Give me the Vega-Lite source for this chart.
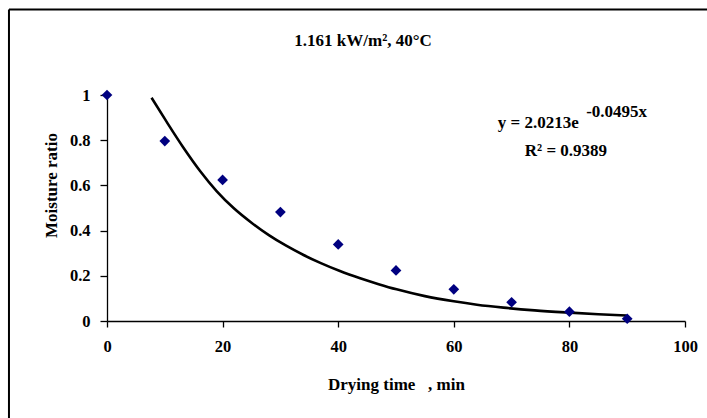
{
  "$schema": "https://vega.github.io/schema/vega-lite/v6.json",
  "autosize": "none",
  "width": 578,
  "height": 226,
  "padding": {"left": 107, "top": 95, "right": 22, "bottom": 97},
  "background": "white",
  "config": {
    "view": {"stroke": null},
    "font": "Liberation Serif",
    "axis": {"labelFont": "Liberation Serif", "titleFont": "Liberation Serif", "labelFontWeight": "bold", "titleFontWeight": "bold", "labelColor": "black", "titleColor": "black", "domainColor": "black", "tickColor": "black", "domainWidth": 1.3, "tickWidth": 1.3, "grid": false, "labelFontSize": 16.5, "titleFontSize": 17, "labelFlush": false}
  },
  "datasets": {
    "points": [
      {"time": 0, "mr": 1.0},
      {"time": 10, "mr": 0.796},
      {"time": 20, "mr": 0.624},
      {"time": 30, "mr": 0.482},
      {"time": 40, "mr": 0.339},
      {"time": 50, "mr": 0.224},
      {"time": 60, "mr": 0.140},
      {"time": 70, "mr": 0.083},
      {"time": 80, "mr": 0.041},
      {"time": 90, "mr": 0.01}
    ],
    "curve": [
      {"time": 7.7, "mr": 0.988},
      {"time": 10.3, "mr": 0.882},
      {"time": 13.2, "mr": 0.768},
      {"time": 16.1, "mr": 0.664},
      {"time": 19.0, "mr": 0.574},
      {"time": 21.9, "mr": 0.500},
      {"time": 25.0, "mr": 0.435},
      {"time": 28.0, "mr": 0.380},
      {"time": 31.0, "mr": 0.333},
      {"time": 34.0, "mr": 0.292},
      {"time": 37.0, "mr": 0.256},
      {"time": 40.3, "mr": 0.221},
      {"time": 43.8, "mr": 0.189},
      {"time": 47.0, "mr": 0.163},
      {"time": 50.1, "mr": 0.140},
      {"time": 55.0, "mr": 0.110},
      {"time": 60.0, "mr": 0.087},
      {"time": 64.0, "mr": 0.072},
      {"time": 68.6, "mr": 0.059},
      {"time": 74.0, "mr": 0.047},
      {"time": 80.1, "mr": 0.037},
      {"time": 85.0, "mr": 0.030},
      {"time": 89.9, "mr": 0.024}
    ]
  },
  "layer": [
    {
      "data": {"name": "curve"},
      "mark": {"type": "line", "color": "black", "strokeWidth": 2.6, "interpolate": "monotone"},
      "encoding": {
        "x": {"field": "time", "type": "quantitative", "scale": {"domain": [0, 100], "nice": false},
          "axis": {"values": [0, 20, 40, 60, 80, 100], "tickSize": 6, "labelPadding": 11, "title": "Drying time\u00a0\u00a0\u00a0, min", "titlePadding": 22, "format": "d"}},
        "y": {"field": "mr", "type": "quantitative", "scale": {"domain": [0, 1], "nice": false},
          "axis": {"values": [0, 0.2, 0.4, 0.6, 0.8, 1], "tickSize": 7, "labelPadding": 10, "title": "Moisture ratio", "titlePadding": 9, "titleY": 90, "format": "~g"}}
      }
    },
    {
      "data": {"name": "points"},
      "mark": {"type": "point", "shape": "diamond", "filled": true, "color": "#000080", "size": 115, "opacity": 1},
      "encoding": {
        "x": {"field": "time", "type": "quantitative"},
        "y": {"field": "mr", "type": "quantitative"}
      }
    },
    {
      "data": {"values": [{}]},
      "mark": {"type": "text", "text": "1.161 kW/m², 40°C", "font": "Liberation Serif", "fontSize": 17, "fontWeight": "bold", "align": "center", "baseline": "middle", "color": "black"},
      "encoding": {"x": {"datum": 44.3}, "y": {"datum": 1.24}}
    },
    {
      "data": {"values": [{}]},
      "mark": {"type": "text", "text": "y = 2.0213e", "font": "Liberation Serif", "fontSize": 17, "fontWeight": "bold", "align": "center", "baseline": "middle", "color": "black"},
      "encoding": {"x": {"datum": 74.6}, "y": {"datum": 0.876}}
    },
    {
      "data": {"values": [{}]},
      "mark": {"type": "text", "text": "-0.0495x", "font": "Liberation Serif", "fontSize": 17, "fontWeight": "bold", "align": "left", "baseline": "middle", "color": "black"},
      "encoding": {"x": {"datum": 82.9}, "y": {"datum": 0.925}}
    },
    {
      "data": {"values": [{}]},
      "mark": {"type": "text", "text": "R² = 0.9389", "font": "Liberation Serif", "fontSize": 17, "fontWeight": "bold", "align": "center", "baseline": "middle", "color": "black"},
      "encoding": {"x": {"datum": 79.4}, "y": {"datum": 0.752}}
    },
    {
      "data": {"values": [{}]},
      "mark": {"type": "rule", "color": "black", "strokeWidth": 2},
      "encoding": {"x": {"datum": -16.96}, "x2": {"datum": 110}, "y": {"datum": 1.378}}
    },
    {
      "data": {"values": [{}]},
      "mark": {"type": "rule", "color": "black", "strokeWidth": 2},
      "encoding": {"x": {"datum": -16.96}, "y": {"datum": 1.378}, "y2": {"datum": -0.6}}
    }
  ]
}
